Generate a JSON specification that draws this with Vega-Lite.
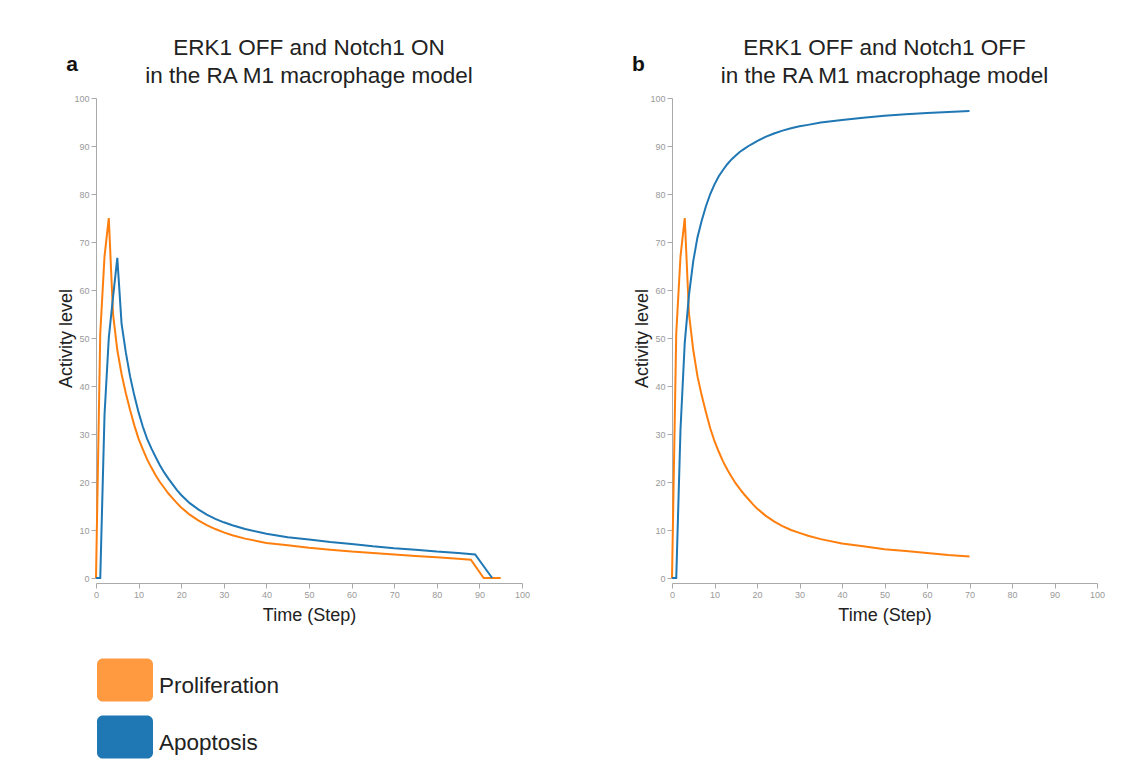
{
  "$schema": "https://vega.github.io/schema/vega-lite/v6.json",
  "padding": {"left": 57, "top": 37, "right": 5, "bottom": 5},
  "background": "white",
  "config": {
    "view": {"stroke": null},
    "font": "Liberation Sans",
    "axis": {"grid": false, "labelFontSize": 9, "labelColor": "#999", "labelFont": "Liberation Sans", "labelFlush": false, "tickColor": "#aaa", "domainColor": "#aaa", "tickSize": 5, "titleFontSize": 18, "titleFontWeight": "normal", "titleColor": "#222", "titleFont": "Liberation Sans"},
    "title": {"fontSize": 22.5, "fontWeight": "normal", "color": "#222", "font": "Liberation Sans", "lineHeight": 28, "offset": -34, "anchor": "middle"}
  },
  "datasets": {
    "series": [
      {"p": "a", "s": "Proliferation", "t": 0, "v": 0},
      {"p": "a", "s": "Proliferation", "t": 1, "v": 51},
      {"p": "a", "s": "Proliferation", "t": 2, "v": 67},
      {"p": "a", "s": "Proliferation", "t": 3, "v": 75},
      {"p": "a", "s": "Proliferation", "t": 4, "v": 55},
      {"p": "a", "s": "Proliferation", "t": 5, "v": 47.5},
      {"p": "a", "s": "Proliferation", "t": 6, "v": 42.5},
      {"p": "a", "s": "Proliferation", "t": 7, "v": 38.5},
      {"p": "a", "s": "Proliferation", "t": 8, "v": 35},
      {"p": "a", "s": "Proliferation", "t": 9, "v": 31.8},
      {"p": "a", "s": "Proliferation", "t": 10, "v": 29},
      {"p": "a", "s": "Proliferation", "t": 11, "v": 26.8},
      {"p": "a", "s": "Proliferation", "t": 12, "v": 24.7},
      {"p": "a", "s": "Proliferation", "t": 13, "v": 23},
      {"p": "a", "s": "Proliferation", "t": 14, "v": 21.4},
      {"p": "a", "s": "Proliferation", "t": 15, "v": 20},
      {"p": "a", "s": "Proliferation", "t": 16, "v": 18.8},
      {"p": "a", "s": "Proliferation", "t": 17, "v": 17.6},
      {"p": "a", "s": "Proliferation", "t": 18, "v": 16.6},
      {"p": "a", "s": "Proliferation", "t": 19, "v": 15.6},
      {"p": "a", "s": "Proliferation", "t": 20, "v": 14.7},
      {"p": "a", "s": "Proliferation", "t": 22, "v": 13.2},
      {"p": "a", "s": "Proliferation", "t": 24, "v": 12},
      {"p": "a", "s": "Proliferation", "t": 26, "v": 11},
      {"p": "a", "s": "Proliferation", "t": 28, "v": 10.2},
      {"p": "a", "s": "Proliferation", "t": 30, "v": 9.5},
      {"p": "a", "s": "Proliferation", "t": 32, "v": 8.9},
      {"p": "a", "s": "Proliferation", "t": 35, "v": 8.2},
      {"p": "a", "s": "Proliferation", "t": 40, "v": 7.3},
      {"p": "a", "s": "Proliferation", "t": 45, "v": 6.8},
      {"p": "a", "s": "Proliferation", "t": 50, "v": 6.3},
      {"p": "a", "s": "Proliferation", "t": 55, "v": 5.9},
      {"p": "a", "s": "Proliferation", "t": 60, "v": 5.5},
      {"p": "a", "s": "Proliferation", "t": 65, "v": 5.2},
      {"p": "a", "s": "Proliferation", "t": 70, "v": 4.9},
      {"p": "a", "s": "Proliferation", "t": 75, "v": 4.6},
      {"p": "a", "s": "Proliferation", "t": 80, "v": 4.3},
      {"p": "a", "s": "Proliferation", "t": 85, "v": 4.0},
      {"p": "a", "s": "Proliferation", "t": 88, "v": 3.8},
      {"p": "a", "s": "Proliferation", "t": 91, "v": 0},
      {"p": "a", "s": "Proliferation", "t": 95, "v": 0},
      {"p": "a", "s": "Apoptosis", "t": 0, "v": 0},
      {"p": "a", "s": "Apoptosis", "t": 1, "v": 0},
      {"p": "a", "s": "Apoptosis", "t": 2, "v": 34},
      {"p": "a", "s": "Apoptosis", "t": 3, "v": 50},
      {"p": "a", "s": "Apoptosis", "t": 4, "v": 58.5},
      {"p": "a", "s": "Apoptosis", "t": 5, "v": 66.7},
      {"p": "a", "s": "Apoptosis", "t": 6, "v": 53},
      {"p": "a", "s": "Apoptosis", "t": 7, "v": 47},
      {"p": "a", "s": "Apoptosis", "t": 8, "v": 42},
      {"p": "a", "s": "Apoptosis", "t": 9, "v": 38},
      {"p": "a", "s": "Apoptosis", "t": 10, "v": 34.5},
      {"p": "a", "s": "Apoptosis", "t": 11, "v": 31.5},
      {"p": "a", "s": "Apoptosis", "t": 12, "v": 29},
      {"p": "a", "s": "Apoptosis", "t": 13, "v": 27},
      {"p": "a", "s": "Apoptosis", "t": 14, "v": 25.2},
      {"p": "a", "s": "Apoptosis", "t": 15, "v": 23.5},
      {"p": "a", "s": "Apoptosis", "t": 16, "v": 22},
      {"p": "a", "s": "Apoptosis", "t": 17, "v": 20.7},
      {"p": "a", "s": "Apoptosis", "t": 18, "v": 19.5},
      {"p": "a", "s": "Apoptosis", "t": 19, "v": 18.3},
      {"p": "a", "s": "Apoptosis", "t": 20, "v": 17.3},
      {"p": "a", "s": "Apoptosis", "t": 22, "v": 15.6},
      {"p": "a", "s": "Apoptosis", "t": 24, "v": 14.3},
      {"p": "a", "s": "Apoptosis", "t": 26, "v": 13.2},
      {"p": "a", "s": "Apoptosis", "t": 28, "v": 12.3},
      {"p": "a", "s": "Apoptosis", "t": 30, "v": 11.6},
      {"p": "a", "s": "Apoptosis", "t": 32, "v": 11},
      {"p": "a", "s": "Apoptosis", "t": 35, "v": 10.2},
      {"p": "a", "s": "Apoptosis", "t": 40, "v": 9.2},
      {"p": "a", "s": "Apoptosis", "t": 45, "v": 8.5},
      {"p": "a", "s": "Apoptosis", "t": 50, "v": 8},
      {"p": "a", "s": "Apoptosis", "t": 55, "v": 7.5},
      {"p": "a", "s": "Apoptosis", "t": 60, "v": 7.1},
      {"p": "a", "s": "Apoptosis", "t": 65, "v": 6.6},
      {"p": "a", "s": "Apoptosis", "t": 70, "v": 6.2},
      {"p": "a", "s": "Apoptosis", "t": 75, "v": 5.9},
      {"p": "a", "s": "Apoptosis", "t": 80, "v": 5.5},
      {"p": "a", "s": "Apoptosis", "t": 85, "v": 5.2},
      {"p": "a", "s": "Apoptosis", "t": 89, "v": 4.9},
      {"p": "a", "s": "Apoptosis", "t": 93, "v": 0},
      {"p": "b", "s": "Proliferation", "t": 0, "v": 0},
      {"p": "b", "s": "Proliferation", "t": 1, "v": 51},
      {"p": "b", "s": "Proliferation", "t": 2, "v": 67},
      {"p": "b", "s": "Proliferation", "t": 3, "v": 75},
      {"p": "b", "s": "Proliferation", "t": 4, "v": 55},
      {"p": "b", "s": "Proliferation", "t": 5, "v": 47.5},
      {"p": "b", "s": "Proliferation", "t": 6, "v": 42},
      {"p": "b", "s": "Proliferation", "t": 7, "v": 38},
      {"p": "b", "s": "Proliferation", "t": 8, "v": 34.5},
      {"p": "b", "s": "Proliferation", "t": 9, "v": 31.2},
      {"p": "b", "s": "Proliferation", "t": 10, "v": 28.5},
      {"p": "b", "s": "Proliferation", "t": 11, "v": 26.3},
      {"p": "b", "s": "Proliferation", "t": 12, "v": 24.3},
      {"p": "b", "s": "Proliferation", "t": 13, "v": 22.6},
      {"p": "b", "s": "Proliferation", "t": 14, "v": 21.1},
      {"p": "b", "s": "Proliferation", "t": 15, "v": 19.7},
      {"p": "b", "s": "Proliferation", "t": 16, "v": 18.5},
      {"p": "b", "s": "Proliferation", "t": 17, "v": 17.4},
      {"p": "b", "s": "Proliferation", "t": 18, "v": 16.4},
      {"p": "b", "s": "Proliferation", "t": 19, "v": 15.4},
      {"p": "b", "s": "Proliferation", "t": 20, "v": 14.5},
      {"p": "b", "s": "Proliferation", "t": 22, "v": 13},
      {"p": "b", "s": "Proliferation", "t": 24, "v": 11.8},
      {"p": "b", "s": "Proliferation", "t": 26, "v": 10.8},
      {"p": "b", "s": "Proliferation", "t": 28, "v": 10},
      {"p": "b", "s": "Proliferation", "t": 30, "v": 9.4},
      {"p": "b", "s": "Proliferation", "t": 32, "v": 8.8},
      {"p": "b", "s": "Proliferation", "t": 35, "v": 8.1},
      {"p": "b", "s": "Proliferation", "t": 40, "v": 7.2},
      {"p": "b", "s": "Proliferation", "t": 45, "v": 6.6},
      {"p": "b", "s": "Proliferation", "t": 50, "v": 6.0},
      {"p": "b", "s": "Proliferation", "t": 55, "v": 5.6},
      {"p": "b", "s": "Proliferation", "t": 60, "v": 5.2},
      {"p": "b", "s": "Proliferation", "t": 65, "v": 4.8},
      {"p": "b", "s": "Proliferation", "t": 70, "v": 4.5},
      {"p": "b", "s": "Apoptosis", "t": 0, "v": 0},
      {"p": "b", "s": "Apoptosis", "t": 1, "v": 0},
      {"p": "b", "s": "Apoptosis", "t": 2, "v": 31},
      {"p": "b", "s": "Apoptosis", "t": 3, "v": 49},
      {"p": "b", "s": "Apoptosis", "t": 4, "v": 59},
      {"p": "b", "s": "Apoptosis", "t": 5, "v": 66},
      {"p": "b", "s": "Apoptosis", "t": 6, "v": 71},
      {"p": "b", "s": "Apoptosis", "t": 7, "v": 74.5},
      {"p": "b", "s": "Apoptosis", "t": 8, "v": 77.5},
      {"p": "b", "s": "Apoptosis", "t": 9, "v": 80},
      {"p": "b", "s": "Apoptosis", "t": 10, "v": 82},
      {"p": "b", "s": "Apoptosis", "t": 11, "v": 83.7},
      {"p": "b", "s": "Apoptosis", "t": 12, "v": 85},
      {"p": "b", "s": "Apoptosis", "t": 13, "v": 86.2},
      {"p": "b", "s": "Apoptosis", "t": 14, "v": 87.2},
      {"p": "b", "s": "Apoptosis", "t": 15, "v": 88},
      {"p": "b", "s": "Apoptosis", "t": 16, "v": 88.8},
      {"p": "b", "s": "Apoptosis", "t": 17, "v": 89.4},
      {"p": "b", "s": "Apoptosis", "t": 18, "v": 90},
      {"p": "b", "s": "Apoptosis", "t": 19, "v": 90.5},
      {"p": "b", "s": "Apoptosis", "t": 20, "v": 91},
      {"p": "b", "s": "Apoptosis", "t": 22, "v": 91.9},
      {"p": "b", "s": "Apoptosis", "t": 24, "v": 92.6},
      {"p": "b", "s": "Apoptosis", "t": 26, "v": 93.2},
      {"p": "b", "s": "Apoptosis", "t": 28, "v": 93.7},
      {"p": "b", "s": "Apoptosis", "t": 30, "v": 94.1},
      {"p": "b", "s": "Apoptosis", "t": 32, "v": 94.4},
      {"p": "b", "s": "Apoptosis", "t": 35, "v": 94.9},
      {"p": "b", "s": "Apoptosis", "t": 40, "v": 95.4},
      {"p": "b", "s": "Apoptosis", "t": 45, "v": 95.9},
      {"p": "b", "s": "Apoptosis", "t": 50, "v": 96.3},
      {"p": "b", "s": "Apoptosis", "t": 55, "v": 96.6},
      {"p": "b", "s": "Apoptosis", "t": 60, "v": 96.9},
      {"p": "b", "s": "Apoptosis", "t": 65, "v": 97.1},
      {"p": "b", "s": "Apoptosis", "t": 70, "v": 97.3}
    ]
  },
  "hconcat": [
    {
      "width": 426,
      "height": 480,
      "title": {"text": ["ERK1 OFF and Notch1 ON", "in the RA M1 macrophage model"]},
      "layer": [
        {
          "data": {"name": "series"},
          "transform": [{"filter": "datum.p === 'a'"}],
          "mark": {"type": "line", "strokeWidth": 2},
          "encoding": {
            "x": {"field": "t", "type": "quantitative", "scale": {"domain": [0, 100]}, "axis": {"title": "Time (Step)", "values": [0, 10, 20, 30, 40, 50, 60, 70, 80, 90, 100], "offset": 5, "titlePadding": 7}},
            "y": {"field": "v", "type": "quantitative", "scale": {"domain": [0, 100]}, "axis": {"title": "Activity level", "values": [0, 10, 20, 30, 40, 50, 60, 70, 80, 90, 100], "titlePadding": -2}},
            "color": {
              "field": "s", "type": "nominal",
              "scale": {"domain": ["Proliferation", "Apoptosis"], "range": ["#ff7f0e", "#1f77b4"]},
              "legend": {
                "orient": "none", "legendX": 1, "legendY": 554, "title": null,
                "symbolType": "M-0.79,-0.77H0.79A0.21,0.21 0 0 1 1,-0.56V0.56A0.21,0.21 0 0 1 0.79,0.77H-0.79A0.21,0.21 0 0 1 -1,0.56V-0.56A0.21,0.21 0 0 1 -0.79,-0.77Z",
                "symbolSize": 3136, "symbolStrokeWidth": 0,
                "labelFontSize": 22.5, "labelColor": "#222", "labelFont": "Liberation Sans", "labelOffset": 6, "rowPadding": 7,
                "encode": {
                  "symbols": {"update": {"fill": {"signal": "datum.value === 'Proliferation' ? '#ff9a40' : '#1f77b4'"}, "stroke": {"value": "transparent"}, "opacity": {"value": 1}}},
                  "labels": {"update": {"dy": {"value": 6}}}
                }
              }
            }
          }
        },
        {
          "data": {"values": [{"lab": "a"}]},
          "mark": {"type": "text", "fontSize": 21, "fontWeight": "bold", "color": "#111", "align": "center", "baseline": "middle"},
          "encoding": {
            "x": {"datum": -5.6, "type": "quantitative", "scale": {"domain": [0, 100]}},
            "y": {"datum": 106.9, "type": "quantitative", "scale": {"domain": [0, 100]}},
            "text": {"field": "lab"}
          }
        }
      ]
    },
    {
      "width": 425,
      "height": 480,
      "title": {"text": ["ERK1 OFF and Notch1 OFF", "in the RA M1 macrophage model"]},
      "layer": [
        {
          "data": {"name": "series"},
          "transform": [{"filter": "datum.p === 'b'"}],
          "mark": {"type": "line", "strokeWidth": 2},
          "encoding": {
            "x": {"field": "t", "type": "quantitative", "scale": {"domain": [0, 100]}, "axis": {"title": "Time (Step)", "values": [0, 10, 20, 30, 40, 50, 60, 70, 80, 90, 100], "offset": 5, "titlePadding": 7}},
            "y": {"field": "v", "type": "quantitative", "scale": {"domain": [0, 100]}, "axis": {"title": "Activity level", "values": [0, 10, 20, 30, 40, 50, 60, 70, 80, 90, 100], "titlePadding": -2}},
            "color": {"field": "s", "type": "nominal", "scale": {"domain": ["Proliferation", "Apoptosis"], "range": ["#ff7f0e", "#1f77b4"]}}
          }
        },
        {
          "data": {"values": [{"lab": "b"}]},
          "mark": {"type": "text", "fontSize": 21, "fontWeight": "bold", "color": "#111", "align": "center", "baseline": "middle"},
          "encoding": {
            "x": {"datum": -7.9, "type": "quantitative", "scale": {"domain": [0, 100]}},
            "y": {"datum": 106.9, "type": "quantitative", "scale": {"domain": [0, 100]}},
            "text": {"field": "lab"}
          }
        }
      ]
    }
  ],
  "spacing": 102
}
